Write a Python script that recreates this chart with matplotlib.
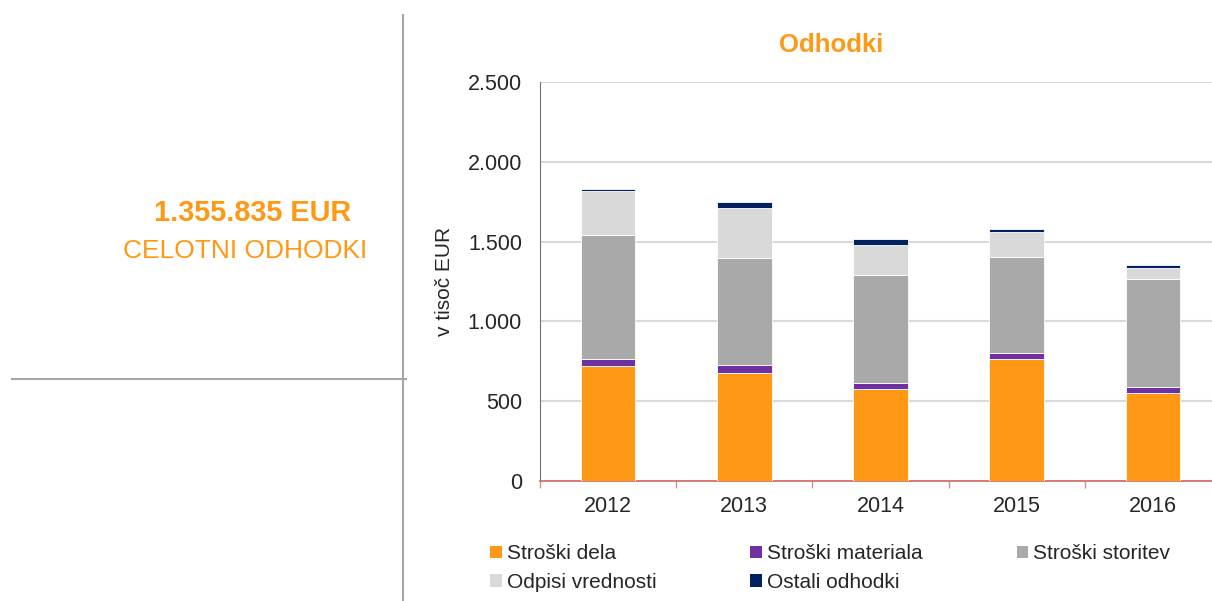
import numpy as np
import matplotlib

matplotlib.use("Agg")
import matplotlib.pyplot as plt
from matplotlib.patches import Patch
from matplotlib.ticker import FuncFormatter, FixedLocator

plt.rcParams["font.family"] = ["Liberation Sans", "DejaVu Sans"]

years = ["2012", "2013", "2014", "2015", "2016"]
stroski_dela = [721, 677, 574, 762, 549]
stroski_materiala = [45, 47, 40, 38, 38]
stroski_storitev = [774, 674, 679, 604, 679]
odpisi_vrednosti = [278, 313, 186, 159, 71]
ostali_odhodki = [14, 40, 40, 14, 19]

series = [
    ("Stroški dela", stroski_dela, "#FF9814"),
    ("Stroški materiala", stroski_materiala, "#7030A0"),
    ("Stroški storitev", stroski_storitev, "#A9A9A9"),
    ("Odpisi vrednosti", odpisi_vrednosti, "#D9D9D9"),
    ("Ostali odhodki", ostali_odhodki, "#002060"),
]

orange = "#FF9814"
W, H = 1212, 601
fig = plt.figure(figsize=(W / 100, H / 100), dpi=100)

# chart area in pixel coords
left, right, top, bottom = 540, 1221, 82, 481
ax = fig.add_axes([left / W, 1 - bottom / H, (right - left) / W, (bottom - top) / H])

x = np.arange(len(years))
base = np.zeros(len(years))
handles = []
for name, vals, col in series:
    ax.bar(x, vals, 0.4, bottom=base, color=col, edgecolor="white", linewidth=0.6, zorder=3)
    base += np.array(vals)
    handles.append(Patch(facecolor=col, label=name))

ax.set_xlim(-0.5, len(years) - 0.5)
ax.set_ylim(0, 2500)
ax.set_yticks(np.arange(0, 2501, 500))
ax.yaxis.set_major_formatter(FuncFormatter(lambda v, p: f"{v:,.0f}".replace(",", ".")))
ax.grid(axis="y", color="#D9D9D9", linewidth=1.5, zorder=0)
ax.set_xticks(x)
ax.set_xticklabels(years)
ax.xaxis.set_minor_locator(FixedLocator(np.arange(-0.5, len(years), 1.0)))
ax.tick_params(axis="x", which="major", length=0, pad=11, labelsize=15.5, colors="#262626")
ax.tick_params(axis="x", which="minor", length=5, width=1, color="#D89090")
ax.tick_params(axis="y", length=0, pad=13, labelsize=15.5, colors="#262626")
for s in ["top", "right"]:
    ax.spines[s].set_visible(False)
ax.spines["left"].set_color("#707070")
ax.spines["bottom"].set_color("#D06868")
ax.spines["bottom"].set_linewidth(1.2)
ax.set_ylabel("v tisoč EUR", fontsize=15, color="#262626", labelpad=10)

fig.text(831 / W, 1 - 45 / H, "Odhodki", ha="center", va="center",
         fontsize=18.5, fontweight="bold", color=orange)

order = [0, 3, 1, 4, 2]
fig.legend([handles[i] for i in order], [handles[i].get_label() for i in order],
           ncol=3, loc="upper left", bbox_to_anchor=(480 / W, 1 - 534 / H),
           frameon=False, fontsize=15, handlelength=0.55, handleheight=0.55,
           handletextpad=0.25, columnspacing=4.5, labelspacing=0.45,
           borderpad=0, labelcolor="#262626")

# left summary panel
fig.text(253 / W, 1 - 213 / H, "1.355.835 EUR", ha="center", va="center",
         fontsize=20.8, fontweight="bold", color=orange)
fig.text(245 / W, 1 - 251 / H, "CELOTNI ODHODKI", ha="center", va="center",
         fontsize=19, color=orange)

fig.add_artist(plt.Line2D([403 / W, 403 / W], [0, 1 - 15 / H], color="#A6A6A6", linewidth=1.5))
fig.add_artist(plt.Line2D([12 / W, 406 / W], [1 - 379 / H, 1 - 379 / H], color="#A6A6A6", linewidth=1.5))

fig.savefig("out.png", dpi=100)
